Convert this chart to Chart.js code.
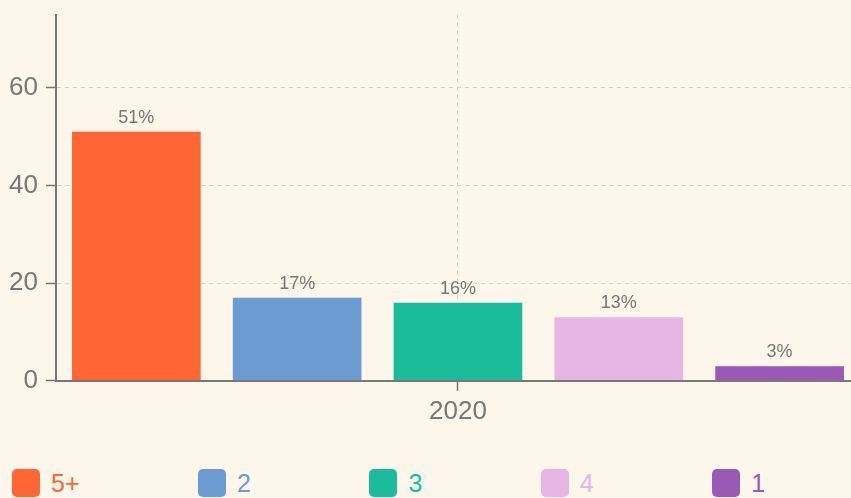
<!DOCTYPE html>
<html>
<head>
<meta charset="utf-8">
<script src="https://cdn.jsdelivr.net/npm/chart.js@4/dist/chart.umd.min.js"></script>
<style>
  html, body { margin: 0; padding: 0; background: #fdf6ea; overflow: hidden; }
  body { width: 851px; height: 498px; position: relative; font-family: "Liberation Sans", Arial, sans-serif; }
  #chartBox { position: absolute; left: 0; top: -9px; width: 862px; height: 455px; }
  #legend { position: absolute; left: 12px; top: 468px; display: flex; white-space: nowrap; }
  .item { display: flex; align-items: center; margin-right: 118.5px; font-size: 25px; line-height: 30px; }
  .swatch { width: 28px; height: 28px; border-radius: 5px; margin-right: 11px; }
</style>
</head>
<body>
<div id="chartBox"><canvas id="shareChart"></canvas></div>
<div id="legend"></div>
<script>
const years = ["2020"];
const seriesNames = ["5+", "2", "3", "4", "1"];
const seriesValues = [51, 17, 16, 13, 3];
const seriesColors = ["#ff6633", "#6b9bd1", "#1abc9c", "#e6b5e3", "#9b59b6"];
const yTicks = [0, 20, 40, 60];

const TEXT = "#777777";
const GRID = "#d8d1c5";

const datasets = seriesNames.map((name, i) => ({
  label: name,
  data: [seriesValues[i]],
  backgroundColor: seriesColors[i],
  borderWidth: 0,
  barPercentage: 0.8,
  categoryPercentage: 1
}));

// percent labels above each bar
const valueLabels = {
  id: "valueLabels",
  afterDatasetsDraw(chart) {
    const ctx = chart.ctx;
    ctx.save();
    ctx.font = '18px "Liberation Sans", Arial, sans-serif';
    ctx.fillStyle = TEXT;
    ctx.textAlign = "center";
    ctx.textBaseline = "bottom";
    chart.data.datasets.forEach((ds, i) => {
      chart.getDatasetMeta(i).data.forEach((bar, j) => {
        ctx.fillText(ds.data[j] + "%", bar.x, bar.y - 5);
      });
    });
    ctx.restore();
  }
};

new Chart(document.getElementById("shareChart"), {
  type: "bar",
  data: { labels: years, datasets },
  options: {
    responsive: true,
    maintainAspectRatio: false,
    animation: false,
    layout: { padding: { left: 1, right: 2, top: 0, bottom: 14 } },
    plugins: {
      legend: { display: false },
      tooltip: { enabled: false }
    },
    scales: {
      x: {
        grid: {
          offset: false,
          color: GRID,
          tickColor: TEXT,
          tickWidth: 1.5,
          tickLength: 10
        },
        border: { color: TEXT, width: 2, dash: [4, 4], z: 1 },
        ticks: { color: TEXT, font: { size: 26, family: '"Liberation Sans", Arial, sans-serif' }, padding: 5 }
      },
      y: {
        min: 0,
        max: 75,
        grid: {
          color: GRID,
          tickColor: TEXT,
          tickWidth: 1.5,
          tickLength: 10
        },
        border: { color: TEXT, width: 2, dash: [4, 4] },
        afterBuildTicks: (axis) => {
          axis.ticks = yTicks.map((v) => ({ value: v }));
        },
        ticks: { color: TEXT, font: { size: 26, family: '"Liberation Sans", Arial, sans-serif' }, padding: 8 }
      }
    }
  },
  plugins: [valueLabels]
});

const legend = document.getElementById("legend");
seriesNames.forEach((name, i) => {
  const item = document.createElement("div");
  item.className = "item";
  item.style.color = seriesColors[i];
  const sw = document.createElement("span");
  sw.className = "swatch";
  sw.style.background = seriesColors[i];
  const txt = document.createElement("span");
  txt.textContent = name;
  item.appendChild(sw);
  item.appendChild(txt);
  legend.appendChild(item);
});
</script>
</body>
</html>
